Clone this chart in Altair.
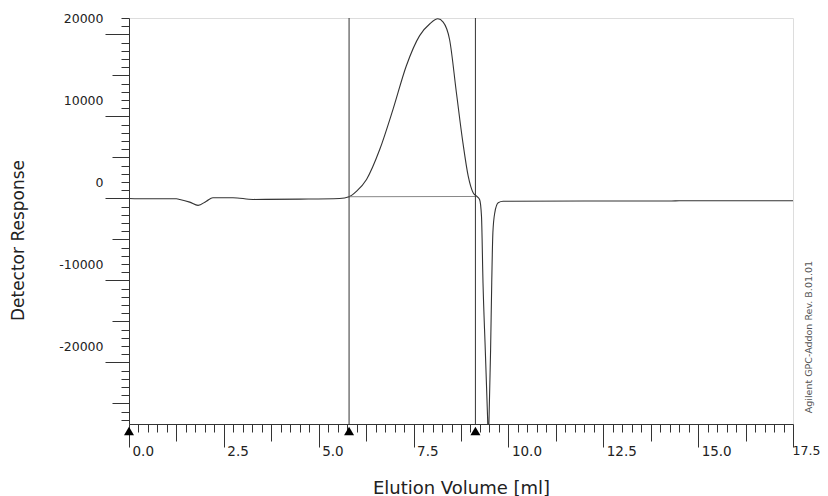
import altair as alt
import pandas as pd

# ---- data ----
elution_ml = [0.0, 0.46, 1.25, 1.34, 1.60, 1.82, 2.04, 2.21, 2.74, 3.27, 4.50, 5.55,
              5.80, 6.00, 6.26, 6.61, 6.96, 7.31, 7.66, 7.93, 8.14, 8.28, 8.45, 8.63,
              8.80, 8.94, 9.07, 9.16, 9.24, 9.29, 9.33, 9.39, 9.45, 9.47, 9.49, 9.53,
              9.56, 9.59, 9.64, 9.73, 9.86, 12.0, 14.3, 14.5, 17.5]
response = [0, -40, -40, -120, -450, -850, -330, 90, 90, -120, -80, 0,
            210, 890, 2320, 5990, 10890, 16180, 19850, 21300, 21900, 21500, 19350, 12850,
            6810, 2730, 700, 280, -120, -2170, -10300, -18470, -26630, -29500, -26630, -18470,
            -10300, -4200, -1750, -530, -350, -320, -320, -280, -280]

baseline_ml = [5.80, 9.13]
baseline_resp = [210, 240]

marker_ml = [5.80, 9.13]          # vertical integration limits
triangle_ml = [0.0, 5.80, 9.13]   # triangle markers on the x axis

note_text = ["Agilent GPC-Addon  Rev. B.01.01"]
note_ml = [17.91]
note_resp = [-16900]

X_MIN, X_MAX = 0.0, 17.5
Y_MIN, Y_MAX = -27500, 22000

x_ticks = [i * 0.25 for i in range(71)]
y_ticks = [v * 1000 for v in range(-27, 23)]

trace = pd.DataFrame({"ml": elution_ml, "v": response})
base = pd.DataFrame({"ml": baseline_ml, "v": baseline_resp})
rules = pd.DataFrame({"ml": marker_ml})
tri = pd.DataFrame({"ml": triangle_ml, "v": [Y_MIN] * len(triangle_ml)})
note = pd.DataFrame({"ml": note_ml, "v": note_resp, "t": note_text})

FONT = "DejaVu Sans"
INK = "#222222"

xscale = alt.Scale(domain=[X_MIN, X_MAX], nice=False, zero=False)
yscale = alt.Scale(domain=[Y_MIN, Y_MAX], nice=False, zero=False)

last_x = "datum.value == %s" % X_MAX

xaxis = alt.Axis(
    values=x_ticks,
    grid=False,
    title="Elution Volume [ml]",
    titleFont=FONT, titleFontSize=18, titleFontWeight="normal", titleColor=INK,
    titleX=332, titleY=69, titleAlign="center", titleBaseline="alphabetic",
    labelExpr="datum.value % 2.5 == 0 ? format(datum.value, '.1f') : ''",
    labelFont=FONT,
    labelFontSize={"condition": {"test": last_x, "value": 12.5}, "value": 13.5},
    labelColor=INK,
    labelAlign="left", labelBaseline="top",
    labelOffset={"condition": {"test": last_x, "value": -1}, "value": 3},
    labelPadding=-3,
    labelOverlap=False, labelFlush=False,
    tickSize={"condition": [{"test": "datum.value % 2.5 == 0", "value": 23},
                            {"test": "datum.value % 1.25 == 0", "value": 17}],
              "value": 8},
    tickColor="#333333", tickWidth=1,
    domainColor="#333333", domainWidth=1,
)

yaxis = alt.Axis(
    values=y_ticks,
    grid=False,
    title="Detector Response",
    titleFont=FONT, titleFontSize=17, titleFontWeight="normal", titleColor=INK,
    titleAngle=270, titleX=-111, titleY=222, titleAlign="center", titleBaseline="middle",
    labelExpr="datum.value % 10000 == 0 ? '' + datum.value : ''",
    labelFont=FONT, labelFontSize=12.5, labelColor=INK,
    labelAlign="right", labelBaseline="middle", labelOffset=-16, labelPadding=2,
    labelOverlap=False, labelFlush=False,
    tickSize={"condition": [{"test": "datum.value % 10000 == 0", "value": 24},
                            {"test": "datum.value % 5000 == 0", "value": 17}],
              "value": 8},
    tickColor="#333333", tickWidth=1,
    domainColor="#333333", domainWidth=1,
)

X = alt.X("ml:Q", scale=xscale, axis=xaxis)
Y = alt.Y("v:Q", scale=yscale, axis=yaxis)

line = alt.Chart(trace).mark_line(
    color="#333333", strokeWidth=1.1, interpolate="monotone", clip=True
).encode(x=X, y=Y)

baseline = alt.Chart(base).mark_line(color="#888888", strokeWidth=1).encode(x=X, y=Y)

vrules = alt.Chart(rules).mark_rule(color="#333333", strokeWidth=1).encode(x=X)

triangles = alt.Chart(tri).mark_point(
    shape="triangle-up", filled=True, color="#000000", size=100, opacity=1, yOffset=7
).encode(x=X, y=Y)

label = alt.Chart(note).mark_text(
    angle=270, font=FONT, fontSize=9.5, color="#555555", align="center", baseline="middle"
).encode(x=X, y=Y, text="t:N")

chart = alt.layer(line, baseline, vrules, triangles, label).properties(
    width=664,
    height=406,
    autosize=alt.AutoSizeParams(type="none"),
    padding={"left": 121, "top": 10, "right": 27, "bottom": 72},
).configure_view(stroke="#333333", strokeWidth=1).configure(background="white")

chart.save("out.html", embed_options={"renderer": "svg", "actions": False})
